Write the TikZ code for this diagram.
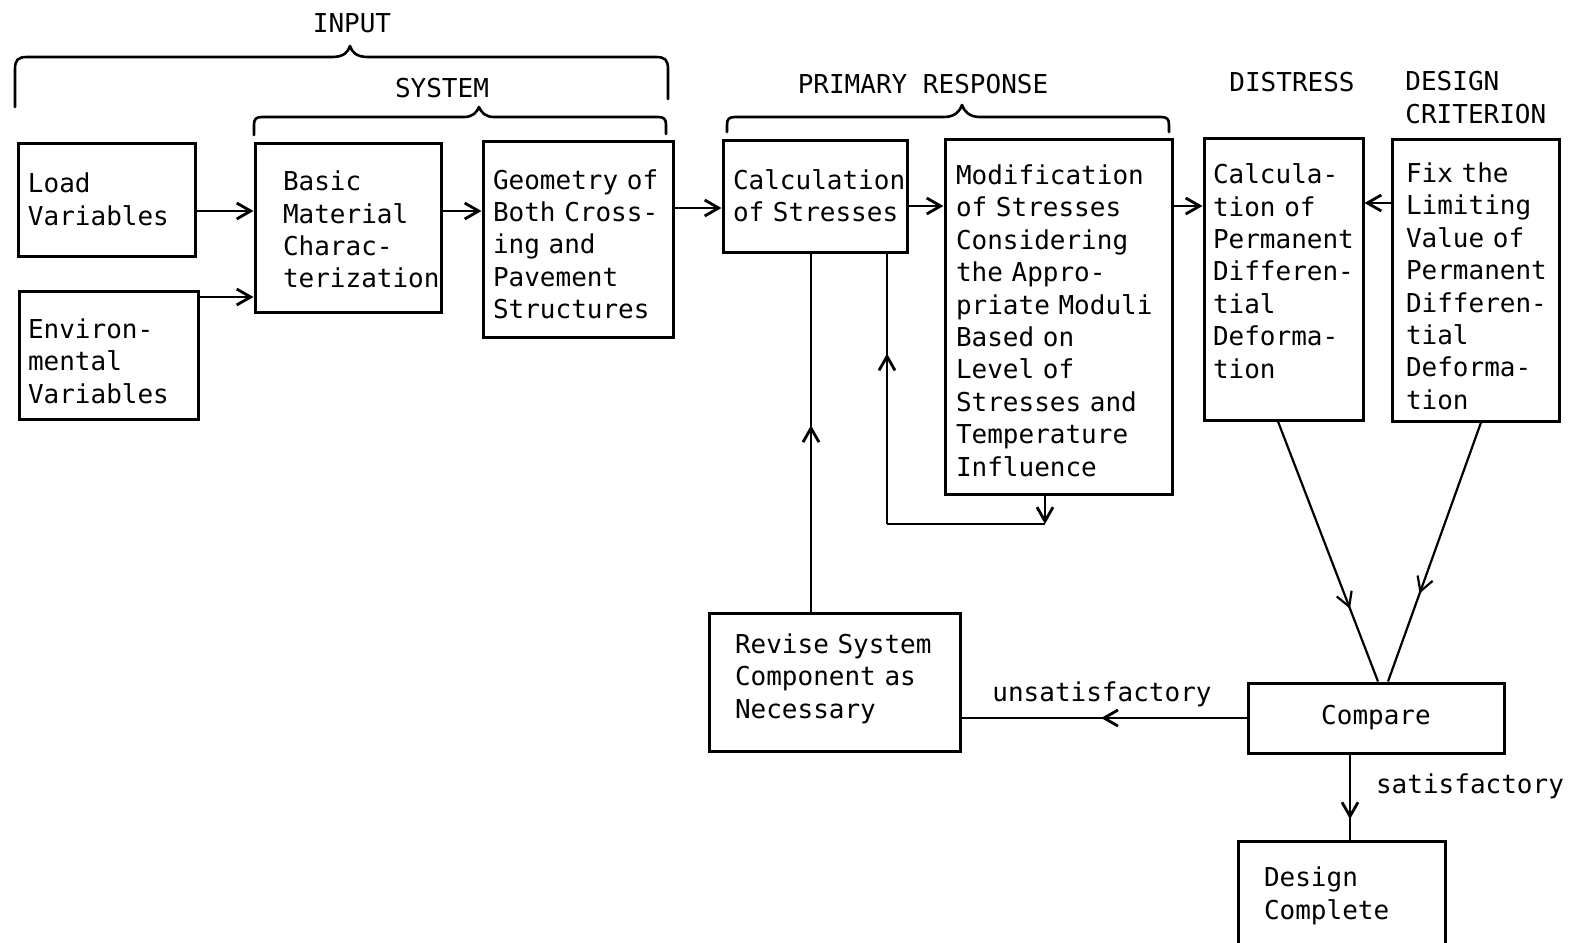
\documentclass[tikz,border=0pt]{standalone}
\usepackage{fontspec}
\newfontfamily\dgmono{DejaVu Sans Mono}
\usetikzlibrary{arrows.meta,decorations.markings}
\newcommand{\dgfont}{\dgmono\fontsize{13pt}{16.2pt}\selectfont}
\newcommand{\dgtop}[1]{\rule{0pt}{#1}}
\newcommand{\dgbot}[1]{\rule[-#1]{0pt}{#1}}
\tikzset{
  box/.style 2 args={draw, line width=1.5pt, inner xsep=0pt, inner ysep=2pt, align=left,
    text width=#1, minimum width=#1, minimum height=#2, font=\dgfont},
  lbl/.style={font=\dgfont, inner sep=0pt},
  conn/.style={line width=1.4pt},
  arr/.style={conn, -{Straight Barb[length=7pt,width=8pt]}},
  midarrow/.style={conn, postaction={decorate}, decoration={markings,
    mark=at position #1 with {\arrow{Straight Barb[length=7pt,width=8pt]}}}},
  brace/.style={line width=1.3pt, line cap=round, line join=round},
}
\begin{document}
\begin{tikzpicture}[x=0.5pt,y=-0.5pt]
\useasboundingbox (0,0) rectangle (1581,943);
\clip (0,0) rectangle (1581,943);

% boxes
\node[box={88.5pt}{56.5pt}] (load) at (106.5,199.5) {\leftskip=5pt Load\\Variables\par};
\node[box={89.5pt}{64pt}] (env) at (108.5,355) {\leftskip=4.5pt\dgtop{16pt}Environ-\\mental\\Variables\par};
\node[box={93pt}{84.5pt}] (basic) at (348,227.5) {\leftskip=14pt\dgtop{12pt}Basic\\Material\\Charac-\\terization\par};
\node[box={95pt}{98pt}] (geom) at (578,239) {\leftskip=5pt\dgtop{15pt}Geometry of\\Both Cross-\\ing and\\Pavement\\Structures\par};
\node[box={92pt}{56pt}] (calc) at (815,196) {\leftskip=5pt Calculation\\of Stresses\par};
\node[box={113.5pt}{177.5pt}] (modif) at (1058.5,316.5) {\leftskip=5.5pt\dgtop{14pt}Modification\\of Stresses\\Considering\\the Appro-\\priate Moduli\\Based on\\Level of\\Stresses and\\Temperature\\Influence\par};
\node[box={79.5pt}{141pt}] (calcula) at (1283.5,279) {\leftskip=4.5pt Calcula-\\tion of\\Permanent\\Differen-\\tial\\Deforma-\\tion\dgbot{8pt}\par};
\node[box={83.5pt}{141pt}] (fix) at (1475.5,280) {\leftskip=7pt\dgtop{16pt}Fix the\\Limiting\\Value of\\Permanent\\Differen-\\tial\\Deforma-\\tion\par};
\node[box={125.5pt}{69pt}] (revise) at (834.5,682) {\leftskip=13pt Revise System\\Component as\\Necessary\dgbot{6pt}\par};
\node[box={128pt}{35pt}, align=center] (compare) at (1376,718) {Compare};
\node[box={103.5pt}{55pt}] (design) at (1341.5,896) {\leftskip=13pt Design\\Complete\par};

% labels
\node[lbl] (tInput) at (352,23) {INPUT};
\node[lbl] (tSystem) at (442,88) {SYSTEM};
\node[lbl] (tPrimary) at (923,84) {PRIMARY RESPONSE};
\node[lbl] (tDistress) at (1292,82) {DISTRESS};
\node[lbl, anchor=west, align=left] (tDesign) at (1405,97.5) {DESIGN\\CRITERION};
\node[lbl] (tUnsat) at (1102,694) {unsatisfactory};
\node[lbl] (tSat) at (1470,786) {satisfactory};

% braces
\draw[brace] (15,107) -- (15,69) .. controls (15,60) and (18,57) .. (27,57) -- (332,57)
  .. controls (344,57) and (348,52) .. (350,46) .. controls (352,52) and (356,57) .. (368,57)
  -- (656,57) .. controls (665,57) and (668,60) .. (668,69) -- (668,99);
\draw[brace] (254,135) -- (254,125) .. controls (254,119) and (256,117) .. (262,117) -- (464,117)
  .. controls (473,117) and (477,112) .. (479,107) .. controls (481,112) and (485,117) .. (494,117)
  -- (658,117) .. controls (664,117) and (666,119) .. (666,125) -- (666,134);
\draw[brace] (727,132) -- (727,125) .. controls (727,119) and (729,117) .. (735,117) -- (944,117)
  .. controls (955,117) and (960,111) .. (962,105) .. controls (964,111) and (969,117) .. (980,117)
  -- (1161,117) .. controls (1167,117) and (1169,119) .. (1169,125) -- (1169,132);

% forward arrows
\draw[arr] ([yshift=-5.75pt]load.east) -- ([yshift=-5.75pt]load.east -| basic.west);
\draw[arr] ([yshift=29pt]env.east) -- ([yshift=29pt]env.east -| basic.west);
\draw[arr] ([yshift=8.25pt]basic.east) -- ([yshift=8.25pt]basic.east -| geom.west);
\draw[arr] ([yshift=15.5pt]geom.east) -- ([yshift=15.5pt]geom.east -| calc.west);
\draw[arr] ([yshift=-5pt]calc.east) -- ([yshift=-5pt]calc.east -| modif.west);
\draw[arr] ([yshift=55.25pt]modif.east) -- ([yshift=55.25pt]modif.east -| calcula.west);
\draw[arr] ([yshift=38.5pt]fix.west) -- ([yshift=38.5pt]fix.west -| calcula.east);

% feedback
\draw[midarrow=0.52] ([xshift=-11.75pt]revise.north) -- ([xshift=-11.75pt]revise.north |- calc.south);
\coordinate (loopR) at (1045,524);
\coordinate (loopL) at (887,524);
\draw[arr] (modif.south -| loopR) -- (loopR);
\draw[conn] (loopR) -- (loopL);
\draw[midarrow=0.63] (loopL) -- (loopL |- calc.south);

% compare
\draw[midarrow=0.72, line width=1.1pt] ([xshift=-2.75pt]calcula.south) -- ([xshift=1pt]compare.north);
\draw[midarrow=0.66, line width=1.1pt] ([xshift=2.75pt]fix.south) -- ([xshift=6pt]compare.north);
\draw[midarrow=0.51] (compare.west) -- (compare.west -| revise.east);
\draw[midarrow=0.76] ([xshift=-13pt]compare.south) -- ([xshift=-13pt]compare.south |- design.north);
\end{tikzpicture}
\end{document}
